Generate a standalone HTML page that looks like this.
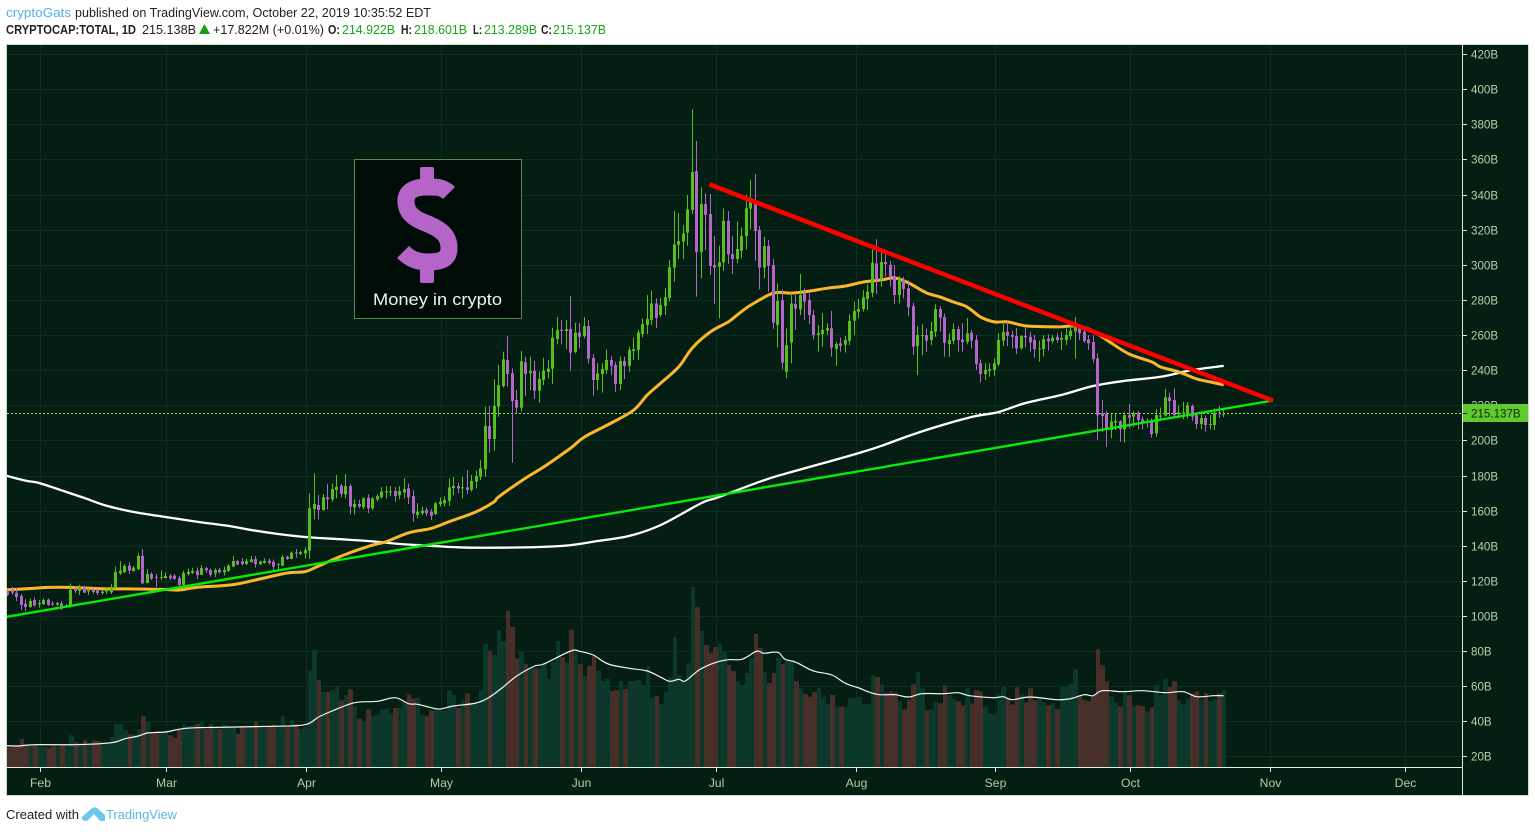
<!DOCTYPE html>
<html lang="en">
<head>
<meta charset="utf-8">
<title>CRYPTOCAP:TOTAL, 1D</title>
<style>
html,body{margin:0;padding:0;background:#fff;width:1535px;height:832px;overflow:hidden}
svg{display:block;font-family:"Liberation Sans",sans-serif}
</style>
</head>
<body>
<svg id="chart" xmlns="http://www.w3.org/2000/svg" width="1535" height="832" viewBox="0 0 1535 832">
  <defs><clipPath id="pane"><rect x="7" y="45" width="1455" height="722"/></clipPath></defs>
  <text x="6" y="17" font-size="12.5" fill="#4FB0E8" textLength="65" lengthAdjust="spacingAndGlyphs">cryptoGats</text>
  <text x="75" y="17" font-size="12.5" fill="#222" textLength="356" lengthAdjust="spacingAndGlyphs">published on TradingView.com, October 22, 2019 10:35:52 EDT</text>
  <g font-size="12.5" fill="#222">
    <text x="6" y="34" font-weight="bold" textLength="130" lengthAdjust="spacingAndGlyphs">CRYPTOCAP:TOTAL, 1D</text>
    <text x="142" y="34" textLength="54" lengthAdjust="spacingAndGlyphs">215.138B</text>
    <polygon points="204.5,24 210,34 199,34" fill="#12A012"/>
    <text x="213" y="34" textLength="111" lengthAdjust="spacingAndGlyphs">+17.822M (+0.01%)</text>
    <text x="328" y="34" font-weight="bold" textLength="12" lengthAdjust="spacingAndGlyphs">O:</text>
    <text x="342" y="34" fill="#16A816" textLength="53" lengthAdjust="spacingAndGlyphs">214.922B</text>
    <text x="401" y="34" font-weight="bold" textLength="11" lengthAdjust="spacingAndGlyphs">H:</text>
    <text x="414" y="34" fill="#16A816" textLength="53" lengthAdjust="spacingAndGlyphs">218.601B</text>
    <text x="473" y="34" font-weight="bold" textLength="9" lengthAdjust="spacingAndGlyphs">L:</text>
    <text x="484" y="34" fill="#16A816" textLength="53" lengthAdjust="spacingAndGlyphs">213.289B</text>
    <text x="541" y="34" font-weight="bold" textLength="11" lengthAdjust="spacingAndGlyphs">C:</text>
    <text x="553" y="34" fill="#16A816" textLength="53" lengthAdjust="spacingAndGlyphs">215.137B</text>
  </g>
  <rect x="6.5" y="44.5" width="1522" height="751" fill="#041E13" stroke="#C8E2C4" stroke-width="1"/>
  <g id="grid"></g>
  <g id="plot" clip-path="url(#pane)"></g>
  <g id="axes"></g>
  <g>
    <rect x="354.5" y="159.5" width="167" height="159" fill="#000C07" stroke="#4F8A4F" stroke-width="1"/>
    <rect x="420" y="167" width="14" height="16" rx="2" fill="#B565C7"/>
    <rect x="420" y="266" width="14" height="17" rx="2" fill="#B565C7"/>
    <path d="M449 193 C442 186,434 187,427 187 C413 187,405 192,406 203 C407 215,417 220,428 224 C442 230,449 236,449 248 C449 260,440 262,428 262 C419 262,411 260,403 252" fill="none" stroke="#B565C7" stroke-width="17"/>
    <text x="373" y="305" font-size="17" fill="#F0F0F0" textLength="129" lengthAdjust="spacingAndGlyphs">Money in crypto</text>
  </g>
  <text x="6" y="819" font-size="13" fill="#222" textLength="73" lengthAdjust="spacingAndGlyphs">Created with</text>
  <path d="M82 817 L91 809 Q94 806 97 808 L105 815 L105 820 Q105 821 103 821 L100 821 L94 814 L88 820 Q87 821 85 821 Q81 820 82 817 Z" fill="#6CC6EE"/>
  <text x="106" y="819" font-size="13" fill="#58B6E5" textLength="71" lengthAdjust="spacingAndGlyphs">TradingView</text>
</svg>
<script>
const opens=[113.9,114.8,113.3,111.4,107,105.1,109.1,106.7,106.8,109.3,
107.2,106.5,107.2,105.3,105.7,115.8,114.3,116.3,114,114.8,
114.6,113.1,113.9,113.5,115.8,124.3,125,128.7,125.6,126.6,
134.2,118.8,123.9,122.4,121.8,121.6,123,123,121.6,117.7,
123.9,124.5,125.8,123.5,127.3,126.2,124.3,126.4,124.9,125.6,
128.1,131.3,131.1,129.6,130.7,132.5,129.6,130.2,131.5,130.9,
129.4,128.7,133.8,132.5,136.1,135.3,135.7,137.2,160.9,163.2,
160.4,167.6,166.4,171.8,174.2,169.3,174,161.9,163.8,161.9,
167.4,161.3,166.4,167.6,170.6,170.6,171.2,168.7,170.4,172.7,
168.3,157.5,158.5,160.4,159.4,158.1,163.6,164.2,165.7,172.9,
174,172.7,173.3,171.8,176.5,179.3,183.7,208.2,200.8,219.2,
231,245.8,238.2,223,218.6,244.5,238.2,239.7,228.3,234.4,
239.1,240.8,257.7,262.9,262.3,263.4,250.4,261.4,259.4,265.1,
246.9,234.4,237.8,240.1,245.8,242.9,232.1,245.2,242.4,250.9,
251.5,260.6,265.7,268.6,278,271.4,276.5,281.1,298.4,311.3,
313.2,318.3,331.2,353.4,307.3,334.6,328.9,299.9,298.9,301.4,
325,306.1,303.3,308,316.4,332,335.8,319.8,298.4,310.7,
299.9,265.7,279.9,239.1,255.7,277.7,274.6,283.7,279.9,271.4,
260,260.6,262.5,263.8,252.2,255.3,254.5,256.8,268.2,273.3,
274.8,280.5,284.1,300.8,291.7,301.6,299.9,293.6,282.8,291.3,
286.6,276.5,253.7,259.6,260,257.2,261.9,274.8,270.3,254.9,
256.8,263.4,257.5,256.2,261.3,257.2,243.9,237.8,239.7,240.1,
243.3,256.8,261.9,260,259.4,252.4,259.6,259,257.2,252,
252,257.9,256.6,259,257.4,257.2,259.4,262.1,265.5,261.9,
257.5,256,246.7,215.4,215,205.9,210.1,211,206.3,214.4,
213.5,215.8,212,210.5,211,204,213.7,214.1,224.5,223,
214.8,215.6,215,219.6,214.4,209.3,212.7,209.1,208.8,216,214.9];
const highs=[114.8,116.7,115.8,112.5,109.5,110,110.6,109.1,110,109.9,
108.5,108,108.5,106.8,118.6,116.7,117.7,117.3,116,116.1,
115.6,114.8,116.1,118.2,128.1,131.3,129.6,130.6,128.3,135.7,
138.2,126.6,125,124.1,126,124.9,123.9,123.7,122.8,125.8,
127.1,127.5,127.5,129,127.9,127,127.1,127.5,128.1,129.6,
134.2,132.1,133,132.5,134.2,134.2,131.5,132.8,132.7,132.1,
130,134.7,134.4,136.8,138.2,137.2,139.1,169.9,181.2,168.9,
169.5,175.2,175.5,180.3,175.2,180.9,175.2,166.4,166.1,167.6,
169.3,167.6,169.3,173.3,174,174,173.3,174,178.4,175.5,
171.7,164.2,162.3,161.9,161,164.7,167.6,168,178.4,179.3,
175.9,179.3,183.1,180.3,182.8,188.8,219.2,219.6,234.8,243,
250.5,259.4,241,228.7,250.9,247.7,247.7,245.2,239.1,247.1,
245.8,264.2,270.1,268.6,268.6,282.2,267,267,270.1,268.6,
249.2,243.9,243.9,251.8,248,244.8,247.7,247.7,253.4,258.7,
262.9,269.5,282.8,285.3,280.9,281.3,286.6,302.7,330.6,329.3,
322.7,339.8,388.5,370.5,344.1,340.7,340.3,316.4,310.9,332.1,
330.6,316.4,324.6,321.3,340.1,348.3,351.7,322.1,316,314.1,
303.3,289.4,286,263.8,283.7,282.8,294.8,286.6,283.7,274.3,
265.7,272.4,266.7,273.7,256.2,258.5,259.4,271.8,279,280.5,
285.6,288.9,308.8,314.6,309.4,306.5,302.2,299.9,293.6,293.2,
291.3,278.4,265.1,266.1,263.8,267.6,277.5,276.5,272.3,261,
266.7,265.1,266.7,269.7,262.9,260,246.1,243.9,243.9,246.7,
261,267.6,267.6,262.5,264,260,264.2,261.9,260,256.8,
260,260.4,260,261,261.9,263.8,267.6,270.3,265.7,263.8,
260,260,249.6,223,216.9,215,215.4,211.6,216.3,220.7,
216.7,216.9,213.5,212.5,212.5,217.7,218.8,229.3,227.2,229.6,
220,221.9,221.9,220.5,215.8,215.4,214.1,214.4,218.2,219.6,218.6];
const lows=[111.4,112,108.5,103.4,102.8,104.7,105.3,104.7,106.3,105.7,
105.7,105.7,103.4,104.9,104.9,113.1,112,113.1,112,112.7,
112,112.2,112.5,112.5,115.2,123.4,124.3,123.9,125.2,126.2,
118.2,118.6,120.5,116.5,120.5,121.3,120.5,120.5,116.7,117.3,
123,123.9,121.1,123.3,124.7,122.4,122.2,124.1,123,125.2,
127.9,128.9,128.7,129,130.4,127.5,129,129.8,129.2,126.2,
125.8,128.5,131.9,132.3,133.2,134.7,132.8,132.6,155,155,
160,160.7,165.1,167,167.6,167,157.9,157.9,161.3,160.9,
158.5,160.4,165.3,167,167,168.3,165.1,166.4,167,163.8,
153.7,155.6,157.5,157,154.7,157.5,162.3,162.3,162.6,168.9,
169.9,167,169.5,170.8,172.7,177.4,179.3,193,194.2,213.5,
230,230.6,187.3,215.8,216.4,225.3,228.7,223.6,221.5,231.5,
235.3,232.1,254.7,254.7,251.8,239.7,249.6,252.4,258.1,243.9,
225.5,228.7,227.2,237.8,237.2,227.7,228.7,234.8,239.1,245.8,
245.8,258.7,260.6,265.7,264,270.5,271.4,279,290.4,303.3,
303.3,310.9,329,281.8,292.3,308.4,294.2,277.7,269.5,296.6,
300.5,294.8,300.8,303.7,308.8,320.2,302.3,286,292.3,284.7,
263.6,253,240.5,235.4,243.9,262.9,271.4,268.6,266.3,257.5,
250.5,253.4,260,247.7,242.5,250.5,250,254.3,260,269.5,
273.3,274.3,281.5,283.4,287.5,293.2,287.5,277.7,278,280.9,
270.8,248.6,237.2,248.6,250.5,254.3,259,261.9,247.7,247.7,
254.7,250.5,250.5,254.7,252.4,240.1,232.9,234.4,236.3,236.7,
242.4,253.7,253.7,252.4,249.2,251.8,253,250.5,247.1,244.8,
247.7,251.1,255.3,255.6,251.5,254.3,257.5,246.5,257.2,255.6,
251.5,244.3,200.2,204.9,196.4,201.2,205.9,199.3,198.7,206.9,
207.8,206.3,206.3,207.4,201.5,202.1,211.6,213.5,213.5,213.5,
213.9,212,212.5,211.2,206.5,206.3,204.9,206.3,205.9,212.7,213.3];
const closes=[112,113.3,110.8,106.3,105.1,108.5,106,107.4,109.1,106.3,
106.8,107.4,104.7,105.7,115,114.3,116.5,113.3,114.8,113.7,
113.1,113.9,114.8,116.5,125,125.8,128.5,125.8,127.5,134.2,
118.6,123.9,121.3,122,122.2,122.8,121.4,121.1,117.7,124.5,
125.2,125.6,123.3,127.3,126,123.5,126.2,124.9,126.2,128.7,
131.3,129.4,129.6,131.3,132.3,129.6,131.1,131.3,130.2,128.1,
129.8,133.6,132.5,136.1,135.7,136.4,137.6,161.3,163.8,160.4,
167.6,166.4,172.3,173.6,169.5,174,162.3,163.8,162.3,167,
161.3,167,168.3,170.8,171,171,168.3,171.2,172.3,167.6,
158.5,159.4,160,158.5,157.1,164.2,165.1,166,173.3,174,
172.7,173.3,171.8,176.9,179.7,184.1,208.2,200.8,219.6,231.5,
246.2,237.8,222.4,218.6,245.2,237.8,239.5,228.3,235,239.7,
240.8,258.5,262.9,262.3,263.4,250,261.4,259,265.1,246.5,
234.4,238.2,240.7,245.8,242.5,232.1,245.2,242.4,251.5,251.9,
261.5,266.3,269.1,278,269.7,277.1,281.5,298.6,311.6,313.5,
317.9,331.6,352.8,307.3,334.6,328.4,299.3,298.4,301.4,325,
306,303.3,309,316.4,332.2,336,319.2,298.4,310.7,299.5,
267,279.4,244.3,254.3,278,275,282.8,279,271.4,260,
261,262.9,264,252.8,254.9,253.8,257.2,268,273.7,274.8,
281.5,284.7,301.2,291.3,301.6,300.4,293.2,282.8,292.3,286.2,
275.8,253.4,260,260,256.8,262.3,274.8,269.9,255.6,257.2,
263.4,257.2,256,261,256.8,243.5,237.8,240.1,240.6,243.9,
257.2,261.7,259.6,259,252.4,259.4,258.7,255.8,252,252.4,
257.7,256.4,258.5,257.2,258.3,260,262.5,264.4,261,256.6,
255.3,246.3,214.4,213.9,205.9,210.7,211,206.3,214.4,212.9,
215.4,211.6,210.5,211,203.6,214.4,214.1,224.5,222.4,214.4,
216,216,220,213.5,209.3,212.7,208.8,209.3,215.8,215.6,215.14];
const volumes=[21.7,22,22,28,22.7,22,22,20,20,19,
20.7,20,21.7,20.7,31.7,25,24,26.7,24,26.7,
26,25,25,30,43,43,37,32.7,33,38,
50.7,45,35,35.7,35,34,31.7,29,37,43,
40.7,41.7,43,45,38,42.7,40,38,42.7,40.7,
39,33,41,40,40.7,45.7,40,39,41,42.7,
42,50.7,40,46.7,43,38,40,96.7,116.7,86.7,
75,75,76.7,80.7,66.7,71.7,77.7,60.7,48.3,45.7,
57.7,50.7,52.7,58.3,58.3,53.3,59,59,65,72.7,
68.3,69.3,51.7,50.7,56.7,58.3,56.7,56.7,76.7,71.7,
59,66.7,73.7,63,63,77,123,116.3,112,137,
126,156,140,108.7,115.3,103,98.7,98.7,98.7,104.3,
88.3,105,126,109.7,104.7,137,114.3,103,91,101,
111,96,86,88,76,77,86,78,86,86,
87,82,101,69.3,71,63,75.3,89.7,130.3,92,
86.3,103.7,180,159.7,136,122,114,120,123,116,
102,96,86,82,94,108.7,133,119,95,84,
94,109,103,107,107,86,79,73,70.3,75,
79,70.3,63,72,60.3,60.3,60.3,69,69,70,
63,63,91.7,90,82.7,74.3,75.7,74.3,65.7,57.7,
67.3,82.7,95,78.3,56.7,57.7,64.7,63.7,81.7,71.7,
68.3,65.7,61.7,78.7,63.7,76.7,75.7,60.7,53.7,52.7,
72.7,80,68.7,62.7,79.7,72.7,64.7,78.7,66.7,68.7,
64.7,61.7,63.7,57.7,80,80,83.7,97.7,71.7,66.7,
65.7,71.7,117.7,101.7,85.7,70.7,64.7,60.7,76.7,71.7,
60.7,61.7,60.7,55.7,59.7,81.7,71.7,87.7,79.7,85.7,
66.7,62.7,68.7,73.7,75.7,67.7,73.7,65.7,67.7,73.7,76.7];
const ma50Days=[-1,6,9,14,20,29,35,38,42,50,56,62,66,69,75,81,84,89,94,98,104,108,109,115,119,125,128,134,139,142,145,149,152,156,160,162,165,170,174,178,182,186,190,194,197,200,204,207,210,213,216,219,222,226,231,234,237,240,243,245,249,254,256,260,264,267,270];
const ma50Values=[114.8,115.8,116.3,116.3,115.6,115.4,115.1,114.8,116.3,117.9,121.1,124.5,125.3,128.5,135.1,140.4,142.3,147.4,149.9,153.7,159.4,165.1,167.9,178.6,184.9,195.7,201.9,209.9,217.3,225.9,232.7,241.9,252.7,261.8,267.5,271.5,277.1,283.9,283.9,285,286.7,287.9,290.2,291.4,292.5,289.7,284,281.7,278.8,276,270.3,267.5,267.5,265.2,264.7,264.7,265.2,263.5,259,255.5,249.2,244.7,241.8,239,235,233.3,231.6];
const ma200Days=[-1,4,7,13,17,22,28,35,42,49,54,60,66,72,80,87,94,100,109,118,125,131,138,145,154,158,168,174,182,189,194,200,206,214,220,226,234,241,248,256,263,270];
const ma200Values=[180.3,177,175.7,170.6,167.2,162.7,159.2,156.4,153.7,151.3,149,146.7,145,144,142.7,141,140,139.1,138.9,139.3,140.4,142.7,145.6,151.8,164.3,167.8,177.4,182,187.7,192.8,196.9,202.5,207.6,213.3,216.2,221.3,225.9,231,233.9,236.2,240.1,242.4];
const volMaDays=[-1,2,6,15,23,26,29,31,35,38,42,59,66,69,72,77,82,86,89,91,94,96,99,104,107,110,113,117,119,125,127,130,132,134,138,142,145,147,149,150,151,153.5,157,160,163,166,167,168,171,172.5,175,178,179.5,183,186,189,191,193.6,197,200,203,208,211,213.5,218.7,221,223,227,233,236,239,241,243,247.6,252,257,261,264,267.7,270];
const volMaValues=[21.7,21,22.3,22.3,24.3,28.3,31,34,35,37.7,39.3,40.7,42.3,50,56,64.3,65.7,69.3,63.3,62.7,59.3,58,61,64,70,80,91,101,103,116,115.7,112,106,102,98.7,96,89.7,85.7,87.7,85.7,87.7,97,104.3,107.3,107.7,115.3,115.3,113.7,114.7,108,104.7,97.7,95.3,92,83.7,79,75.3,72.3,72.3,70,73.3,73.3,74.3,71.3,69.3,70.3,67.3,70,67.3,68.3,72.3,71.3,76.3,75.3,76.3,74.3,75.3,70.3,71.3,71.3];
const resistanceDays=[155.8,280.9];
const resistanceValues=[345.8,222.7];
const supportDays=[-0.4,280.9];
const supportValues=[99.5,222.7];
const priceTicks=[20,40,60,80,100,120,140,160,180,200,220,240,260,280,300,320,340,360,380,400,420];
const monthLabels=["Feb","Mar","Apr","May","Jun","Jul","Aug","Sep","Oct","Nov","Dec"];
const monthDays=[7,35,66,96,127,157,188,219,249,280,310];
const lastPrice=215.137;

const NS="http://www.w3.org/2000/svg";
const gridG=document.getElementById("grid");
const plot=document.getElementById("plot");
const axes=document.getElementById("axes");
function xDay(d){return 7.9+4.503*d;}
function xPixel(d){return Math.floor(xDay(d));}
function yPrice(v){return 791.6-1.756*v;}
function yVolume(v){return 767-v;}
function node(tag,parent,attrs){
  const e=document.createElementNS(NS,tag);
  for(const k in attrs)e.setAttribute(k,attrs[k]);
  parent.appendChild(e);
  return e;
}
function gridX(d){return Math.floor(7.9+4.506*d)+1.5;}
function gridY(v){return Math.round(yPrice(v))+0.5;}

priceTicks.forEach(function(t){
  const y=gridY(t);
  const line=node("line",gridG,{x1:7,x2:1462,y1:y,y2:y,stroke:"#0C2F24","stroke-width":1});
  
  
});
monthDays.forEach(function(d){
  const x=gridX(d);
  const line=node("line",gridG,{x1:x,x2:x,y1:45,y2:767,stroke:"#0C2F24","stroke-width":1});
  
  
});

volumes.forEach(function(v,i){
  const left=Math.floor(xDay(i-0.5))+1;
  const right=Math.floor(xDay(i+0.5))+1;
  const up=closes[i]>=opens[i];
  const bar=node("rect",plot,{x:left,y:yVolume(v),width:right-left,height:v,fill:up?"#0D3A2E":"#4C2F2A","fill-opacity":0.93});
  
  
});

function smoothPath(days,values,yf){
  const pts=days.map(function(d,i){return [xDay(d),yf(values[i])];});
  let out="M"+pts[0][0].toFixed(1)+" "+pts[0][1].toFixed(1);
  for(let i=0;i<pts.length-1;i++){
    const p0=pts[Math.max(0,i-1)],p1=pts[i],p2=pts[i+1],p3=pts[Math.min(pts.length-1,i+2)];
    const c1x=p1[0]+(p2[0]-p0[0])/6,c1y=p1[1]+(p2[1]-p0[1])/6;
    const c2x=p2[0]-(p3[0]-p1[0])/6,c2y=p2[1]-(p3[1]-p1[1])/6;
    out+=" C"+c1x.toFixed(1)+" "+c1y.toFixed(1)+","+c2x.toFixed(1)+" "+c2y.toFixed(1)+","+p2[0].toFixed(1)+" "+p2[1].toFixed(1);
  }
  return out;
}
const volMaLine=node("path",plot,{d:smoothPath(volMaDays,volMaValues,yVolume),fill:"none",stroke:"#F4F4F4","stroke-width":1.2,"stroke-linejoin":"round"});



const priceY=Math.round(yPrice(lastPrice)-0.5)+0.5;
const priceLine=node("line",plot,{x1:7,x2:1462,y1:priceY,y2:priceY,stroke:"#A6E062","stroke-width":1,"stroke-dasharray":"2 2"});



const ma200Line=node("path",plot,{d:smoothPath(ma200Days,ma200Values,yPrice),fill:"none",stroke:"#FFFFFF","stroke-width":2.3,"stroke-linejoin":"round"});


const ma50Line=node("path",plot,{d:smoothPath(ma50Days,ma50Values,yPrice),fill:"none",stroke:"#FBB62E","stroke-width":3,"stroke-linejoin":"round"});



opens.forEach(function(o,i){
  const c=closes[i];
  const up=c>=o;
  const col=up?"#56BE1E":"#B565C7";
  const px=xPixel(i);
  const top=yPrice(Math.max(o,c));
  const bottom=yPrice(Math.min(o,c));
  const wick=node("rect",plot,{x:px,y:yPrice(highs[i]),width:1,height:Math.max(1,yPrice(lows[i])-yPrice(highs[i])),fill:col});
  
  
  const body=node("rect",plot,{x:px-1,y:top,width:3,height:Math.max(1,bottom-top),fill:col});
  
  
});

const supportLine=node("line",plot,{x1:xDay(supportDays[0]),y1:yPrice(supportValues[0]),x2:xDay(supportDays[1]),y2:yPrice(supportValues[1]),stroke:"#08EA08","stroke-width":2.4});


const resistanceLine=node("line",plot,{x1:xDay(resistanceDays[0]),y1:yPrice(resistanceValues[0]),x2:xDay(resistanceDays[1]),y2:yPrice(resistanceValues[1]),stroke:"#FF0000","stroke-width":4.5});



const yAxisLine=node("line",axes,{x1:1462.5,x2:1462.5,y1:45,y2:795,stroke:"#D8EBD3","stroke-width":1});


const xAxisLine=node("line",axes,{x1:7,x2:1462,y1:767.5,y2:767.5,stroke:"#E1F0DC","stroke-width":1});



priceTicks.forEach(function(t){
  const y=gridY(t);
  const tick=node("line",axes,{x1:1463,x2:1467,y1:y,y2:y,stroke:"#D8EBD3","stroke-width":1});
  
  
  const label=node("text",axes,{x:1471,y:y+4,"font-size":11.6,fill:"#B0D4AC"});
  
  
  label.textContent=t+"B";
});
monthDays.forEach(function(d,i){
  const x=gridX(d);
  const tick=node("line",axes,{x1:x,x2:x,y1:768,y2:772,stroke:"#D8EBD3","stroke-width":1});
  
  
  const label=node("text",axes,{x:x,y:787,"font-size":12.2,fill:"#A8D2A4","text-anchor":"middle"});
  
  
  label.textContent=monthLabels[i];
});

const priceBox=node("rect",axes,{x:1463,y:priceY-9.5,width:65,height:18,fill:"#62C92E"});


const priceTick=node("line",axes,{x1:1463,x2:1467,y1:priceY,y2:priceY,stroke:"#0A2A14","stroke-width":1});


const priceText=node("text",axes,{x:1471,y:priceY+4,"font-size":11.6,fill:"#0D2A14"});


priceText.textContent=lastPrice.toFixed(3)+"B";
</script>
</body>
</html>
